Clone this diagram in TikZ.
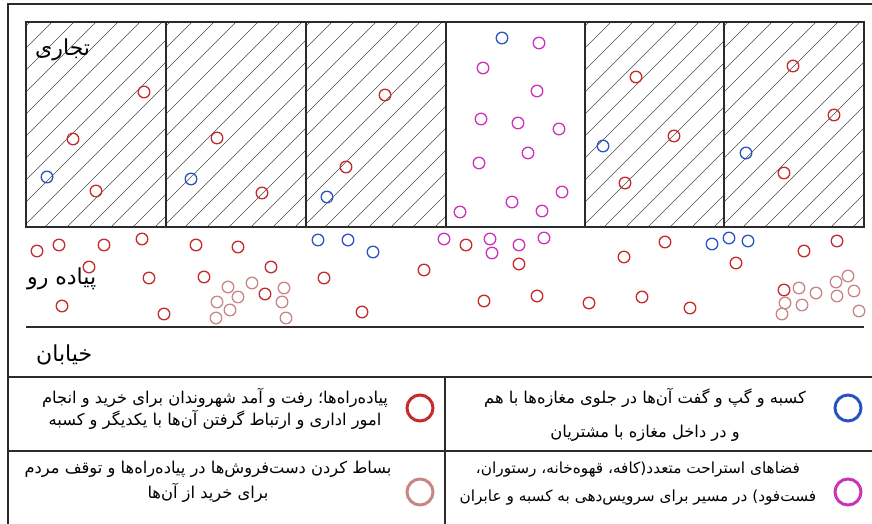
\documentclass[tikz,border=0pt]{standalone}
\usepackage{fontspec}
\usetikzlibrary{positioning}
\TeXXeTstate=1
\newfontfamily\pdFont[Script=Arabic]{DejaVu Sans}
\newcommand{\pdRtl}[1]{\beginR #1\endR}
\definecolor{pdRed}{HTML}{C62A2A}
\definecolor{pdBlue}{HTML}{2A55BE}
\definecolor{pdMagenta}{HTML}{CC33BB}
\definecolor{pdVendor}{HTML}{C98686}
\definecolor{pdInk}{HTML}{2B2B2B}
\tikzset{
    pdFrame/.style={draw=pdInk, line width=1.6pt},
    pdWall/.style={draw=pdInk, line width=1.3pt},
    pdHatch/.style={draw=black!70, line width=0.6pt},
    % people
    pdSpot/.style={line width=1.3pt},
    walker/.style={pdSpot, draw=pdRed},
    trader/.style={pdSpot, draw=pdBlue},
    rest/.style={pdSpot, draw=pdMagenta},
    vendor/.style={pdSpot, draw=pdVendor},
    % legend
    pdKey/.style={circle, inner sep=0pt, minimum size=26pt, line width=3pt},
    pdLabel/.style={font=\pdFont\fontsize{22}{24}\selectfont, inner sep=0pt},
    pdLegend/.style={font=\pdFont\fontsize{16.3}{22}\selectfont, align=center, inner sep=0pt}
}
\begin{document}
\begin{tikzpicture}[x=1pt, y=-1pt]
    \useasboundingbox (0,0) rectangle (872,524);

    % hatched shops
    \foreach \cx in {26,166,306,585,724} {
        \begin{scope}
            \clip (\cx,22) rectangle ++(140,205);
            \foreach \d in {-201,-179,...,151}
                \draw[pdHatch] (\cx+\d,227) -- ++(220,-220);
        \end{scope}
    }
    \draw[pdWall] (26,22) rectangle (864,227);
    \foreach \cx in {166,306,446,585,724}
        \draw[pdWall] (\cx,22) -- (\cx,227);
    \draw[pdFrame] (26,327) -- (864,327);

    % frame and legend grid
    \draw[pdFrame] (872,4) -- (8,4) -- (8,524);
    \draw[pdFrame] (8,377) -- (872,377);
    \draw[pdFrame] (8,451) -- (872,451);
    \draw[pdFrame] (445,377) -- (445,524);

    % zone names
    \node[pdLabel, anchor=west] (shops) at (35,50) {\pdRtl{تجاری}};
    \node[pdLabel, anchor=west] (sidewalk) at (27,279) {\pdRtl{پیاده رو}};
    \node[pdLabel, anchor=west] (street) at (36,355) {\pdRtl{خیابان}};

    % people inside the shops
    \foreach \px/\py in {144/92,73/139,96/191,217/138,262/193,385/95,346/167,636/77,674/136,625/183,793/66,834/115,784/173}
        \draw[walker] (\px,\py) circle (5.8);
    \foreach \px/\py in {47/177,191/179,327/197,502/38,603/146,746/153}
        \draw[trader] (\px,\py) circle (5.8);
    \foreach \px/\py in {539/43,483/68,537/91,481/119,518/123,559/129,528/153,479/163,562/192,512/202,542/211,460/212}
        \draw[rest] (\px,\py) circle (5.8);

    % people on the sidewalk
    \foreach \px/\py in {37/251,59/245,104/245,142/239,196/245,238/247,89/267,149/278,204/277,271/267,324/278,424/270,265/294,62/306,164/314,362/312,466/245,519/264,624/257,665/242,736/263,804/251,837/241,484/301,537/296,589/303,642/297,690/308,784/290}
        \draw[walker] (\px,\py) circle (5.8);
    \foreach \px/\py in {318/240,348/240,373/252,712/244,729/238,748/241}
        \draw[trader] (\px,\py) circle (5.8);
    \foreach \px/\py in {444/239,490/239,492/253,519/245,544/238}
        \draw[rest] (\px,\py) circle (5.8);
    \foreach \px/\py in {228/287,252/283,284/288,238/297,217/302,282/302,230/310,216/318,286/318,799/288,816/293,836/282,848/276,854/291,837/296,785/303,802/305,782/314,859/311}
        \draw[vendor] (\px,\py) circle (5.8);

    % legend
    \node[pdKey, draw=pdRed] (keyWalk) at (420,408) {};
    \node[pdKey, draw=pdVendor] (keyVendor) at (420,492) {};
    \node[pdKey, draw=pdBlue] (keyTrade) at (848,408) {};
    \node[pdKey, draw=pdMagenta] (keyRest) at (848,492) {};

    \node[pdLegend] (legWalk) at (215,409) {\pdRtl{پیاده‌راه‌ها؛ رفت و آمد شهروندان برای خرید و انجام}\\\pdRtl{امور اداری و ارتباط گرفتن آن‌ها با یکدیگر و کسبه}};
    \node[pdLegend] (legVendor) at (208,482) {\pdRtl{بساط کردن دست‌فروش‌ها در پیاده‌راه‌ها و توقف مردم}\\[3pt]\pdRtl{برای خرید از آن‌ها}};
    \node[pdLegend] (legTrade) at (645,415) {\pdRtl{کسبه و گپ و گفت آن‌ها در جلوی مغازه‌ها با هم}\\[12pt]\pdRtl{و در داخل مغازه با مشتریان}};
    \node[pdLegend, font=\pdFont\fontsize{15.3}{21}\selectfont] (legRest) at (638,484) {\pdRtl{فضاهای استراحت متعدد(کافه، قهوه‌خانه، رستوران،}\\[7pt]\pdRtl{فست‌فود) در مسیر برای سرویس‌دهی به کسبه و عابران}};
\end{tikzpicture}
\end{document}
